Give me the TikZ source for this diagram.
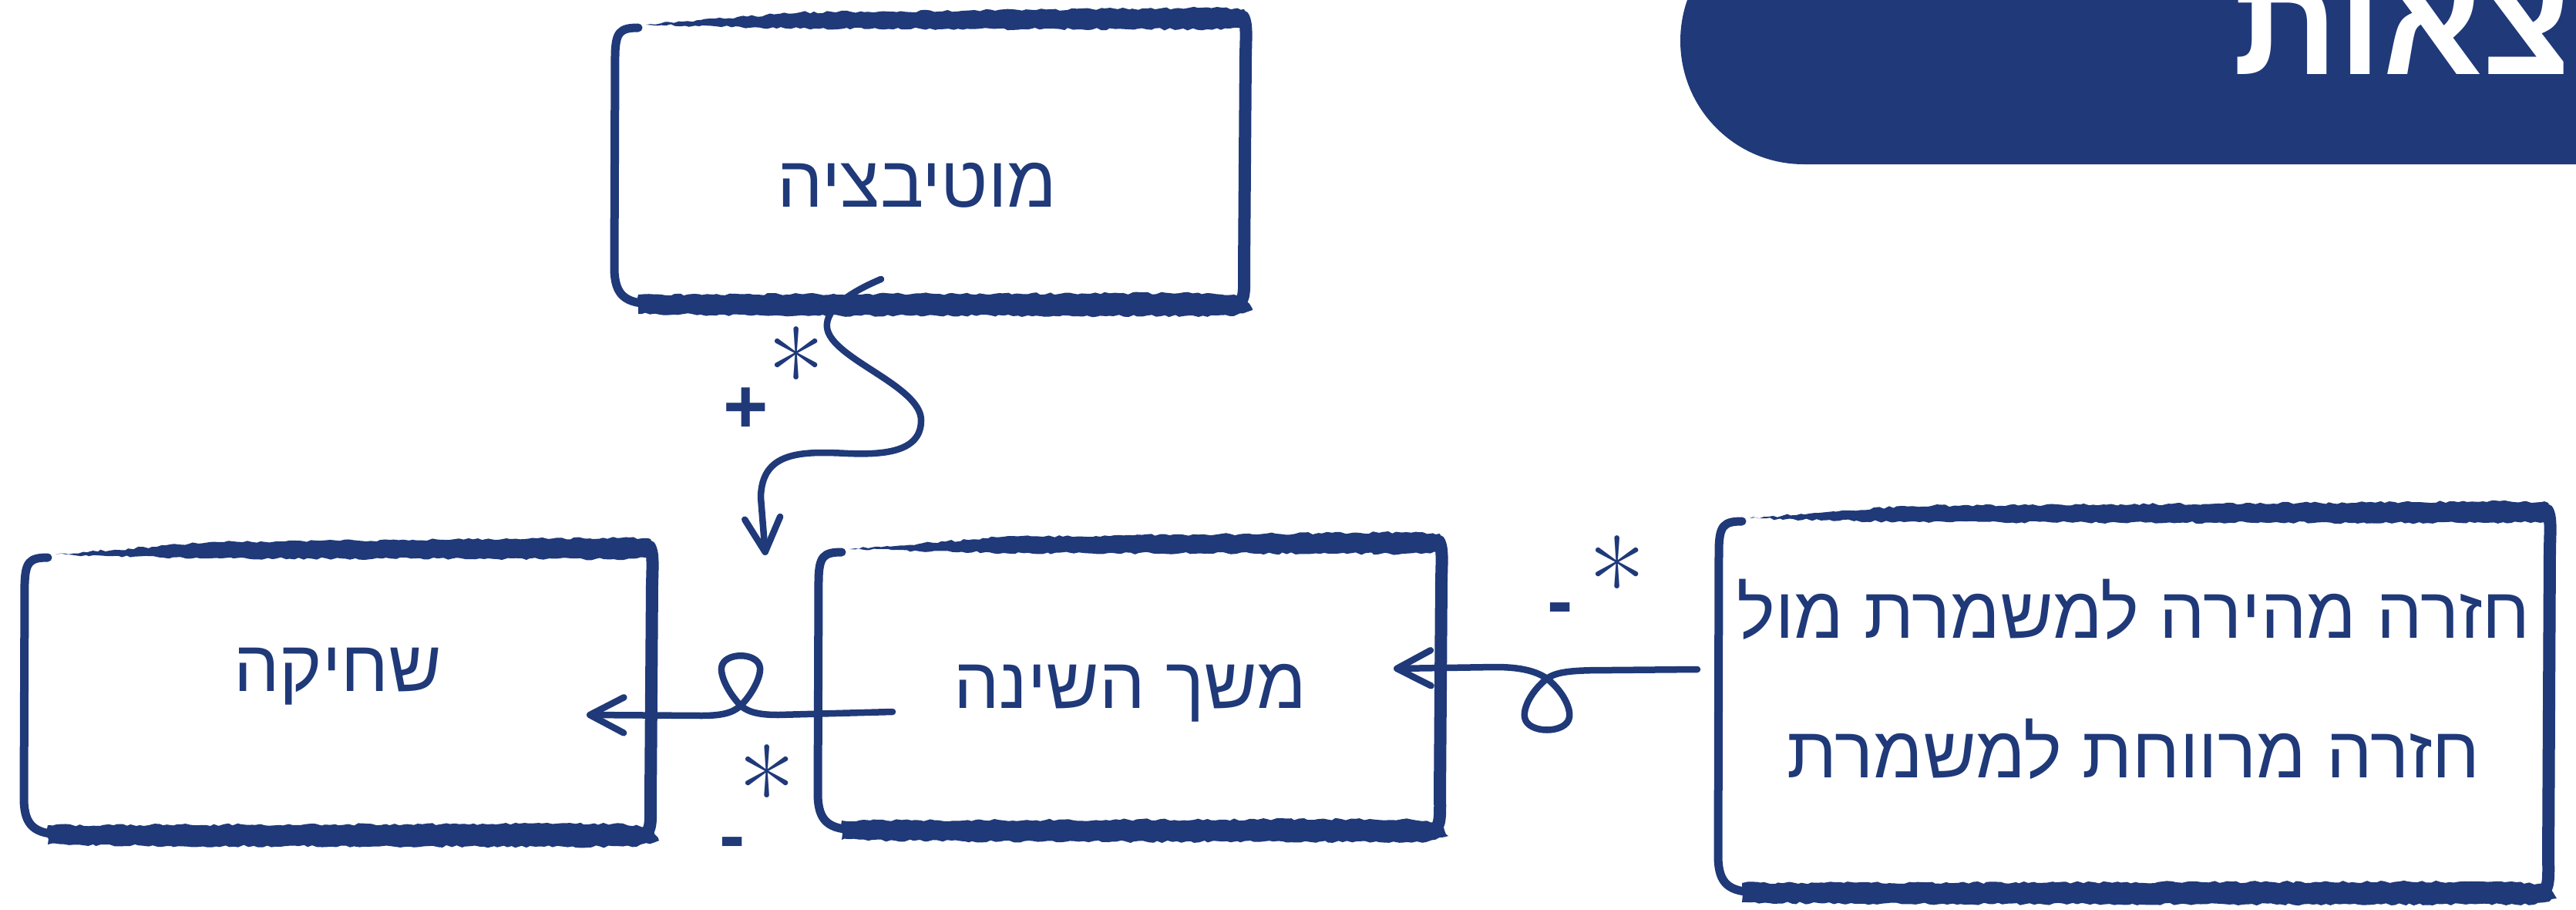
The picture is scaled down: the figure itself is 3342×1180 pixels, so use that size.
\documentclass[tikz,border=0pt]{standalone}
\usepackage{fontspec}
\TeXXeTstate=1
\newfontfamily\hebfont[Script=Hebrew]{Liberation Sans}
\newfontfamily\symfont{Liberation Sans}
\usetikzlibrary{arrows.meta,decorations.pathmorphing}
\definecolor{nv}{RGB}{31,57,121}
\tikzset{
 nvline/.style={draw=nv, line width=8.5pt, line cap=round, line join=round},
 conn/.style={nvline, -{Straight Barb[round,length=44pt,width=46pt]}},
 brush/.style={fill=nv, decorate, decoration={random steps, segment length=6pt, amplitude=1.6pt}},
 edgeline/.style={draw=nv, line cap=round, line join=round},
 boxtext/.style={text=nv, font=\hebfont\fontsize{94}{181}\selectfont, inner sep=0pt, align=center},
 ast/.style={text=nv, font=\fontsize{160}{160}\selectfont, inner sep=0pt},
 sign/.style={text=nv, font=\symfont\bfseries\fontsize{100}{100}\selectfont, inner sep=0pt},
}
\newcommand\astx{\raisebox{-0.3em}[0.42em][0pt]{*}}
\newcommand\minx{\raisebox{-0.2em}[0.14em][0pt]{-}}
\newcommand\roughbox[4]{%
  \fill[brush] (#1+50,#2+22) -- (#1+250,#2+6) -- (#3-40,#2) -- (#3-12,#2+2) -- (#3-6,#2+26) -- (#3-60,#2+28) -- (#1+250,#2+27) -- cycle;
  \draw[edgeline, line width=11pt] (#1+40,#2+26) .. controls (#1+16,#2+26) and (#1+11,#2+32) .. (#1+10,#2+60) -- (#1+9,#4-60) .. controls (#1+10,#4-28) and (#1+22,#4-16) .. (#1+60,#4-16);
  \fill[brush] (#1+40,#4-28) -- (#3-60,#4-30) -- (#3-12,#4-26) -- (#3-1,#4-8) -- (#3-30,#4) -- (#1+200,#4-1) -- (#1+40,#4-3) -- cycle;
  \draw[edgeline, line width=16pt] (#3-13,#2+12) .. controls (#3-9,#2+20) and (#3-9,#2+30) .. (#3-10,#2+60) -- (#3-12,#4-60) .. controls (#3-11,#4-25) and (#3-13,#4-18) .. (#3-22,#4-16);
}
\begin{document}
\begin{tikzpicture}[x=1pt,y=-1pt]
\pgfmathsetseed{7}
\useasboundingbox (0,0) rectangle (3342,1180);
\clip (0,0) rectangle (3342,1180);
\fill[white] (0,0) rectangle (3342,1180);
% title banner
\fill[nv, rounded corners=160pt] (2180,-107) rectangle (3700,213);
\node[anchor=base west, text=white, inner sep=0pt, font=\hebfont\bfseries\fontsize{190}{190}\selectfont] (title) at (2897,97) {\beginR תוצאות\endR};
% boxes
\roughbox{788}{10}{1626}{410}
\roughbox{22}{697}{856}{1098}
\roughbox{1052}{690}{1880}{1092}
\roughbox{2220}{650}{3318}{1173}
\node[boxtext] (mot) at (1190,240) {\beginR מוטיבציה\endR};
\node[boxtext] (shq) at (438,877) {\beginR שחיקה\endR};
\node[boxtext] (msh) at (1466,899) {\beginR משך השינה\endR};
\node[boxtext] (rgt) at (2768,881) {\beginR חזרה מהירה למשמרת מול\endR\\\beginR חזרה מרווחת למשמרת\endR};
% connector anchors
\coordinate (c1s) at (1143,362);
\coordinate (c1e) at (993,720);
\coordinate (c2s) at (1158,923);
\coordinate (c2e) at (761,927);
\coordinate (c3s) at (2202,868);
\coordinate (c3e) at (1808,867);
% connector 1
\draw[conn] (c1s) .. controls (1105,378) and (1070,400) .. (1073,425)
  .. controls (1078,465) and (1195,500) .. (1195,545)
  .. controls (1195,585) and (1150,590) .. (1100,588)
  .. controls (1040,585) and (988,585) .. (987,645)
  -- (c1e);
% connector 2
\draw[conn] (c2s) -- (1010,927) .. controls (990,927) and (972,925) .. (961,915)
  .. controls (948,902) and (935,880) .. (936,866)
  .. controls (938,845) and (984,845) .. (986,866)
  .. controls (987,880) and (974,902) .. (961,915)
  .. controls (950,925) and (935,928) .. (910,928) -- (c2e);
% connector 3
\draw[conn] (c3s) -- (2090,869) .. controls (2045,869) and (2020,870) .. (2007,880)
  .. controls (1990,893) and (1976,915) .. (1978,930)
  .. controls (1981,952) and (2033,952) .. (2036,930)
  .. controls (2038,915) and (2024,893) .. (2007,880)
  .. controls (1990,868) and (1965,865) .. (1940,865) -- (c3e);
% multiplicity labels
\node[ast] (a1) at (1033,462) {\astx};
\node[sign] (p1) at (968,532) {+};
\node[ast] (a2) at (995,1004) {\astx};
\node[sign] (m2) at (950,1090) {\minx};
\node[ast] (a3) at (2098,733) {\astx};
\node[sign] (m3) at (2024,786) {\minx};
\end{tikzpicture}
\end{document}
